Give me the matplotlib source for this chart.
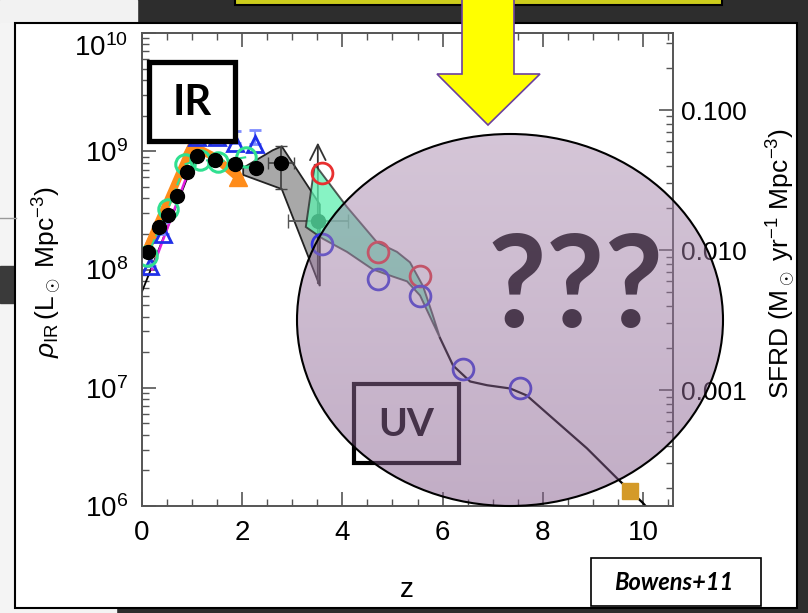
import numpy as np
import matplotlib.pyplot as plt
import matplotlib.transforms as mtransforms
from matplotlib.patches import Rectangle, Ellipse, Polygon
from matplotlib.ticker import FixedLocator, FixedFormatter, MultipleLocator, LogLocator, NullFormatter

plt.rcParams['font.family'] = ['Liberation Sans', 'DejaVu Sans']
plt.rcParams['mathtext.fontset'] = 'custom'
plt.rcParams['mathtext.rm'] = 'Liberation Sans'
plt.rcParams['mathtext.it'] = 'Liberation Sans:italic'
plt.rcParams['mathtext.bf'] = 'Liberation Sans:bold'

W, H = 808, 613

# ---- IR side (z < 4) ----
ir_dot_z = [0.12, 0.34, 0.52, 0.70, 0.90, 1.10, 1.46, 1.86, 2.28, 2.77, 3.51]
ir_dot_rho = [1.40e8, 2.28e8, 2.88e8, 4.16e8, 6.62e8, 9.04e8, 8.36e8, 7.73e8, 7.16e8, 7.89e8, 2.56e8]

green_circ_z = [0.10, 0.52, 0.86, 1.16, 1.52, 2.08]
green_circ_rho = [1.29e8, 3.24e8, 7.76e8, 8.51e8, 8.13e8, 8.91e8]

blue_tri_z = [0.16, 0.42, 1.10, 1.50, 1.86, 2.26]
blue_tri_rho = [1.07e8, 2.00e8, 1.32e9, 1.32e9, 1.17e9, 1.15e9]
blue_tri_up = [0.3e8, 0.5e8, 0.35e9, 0.35e9, 0.3e9, 0.35e9]

orange_z = [0.12, 1.00, 1.45, 1.92]
orange_rho = [1.55e8, 1.12e9, 8.9e8, 6.0e8]
orange_tri_z = [0.12, 1.00, 1.92]
orange_tri_rho = [1.55e8, 1.12e9, 6.0e8]

ir_line_z = [0.0, 1.10]
ir_line_rho = [6.5e7, 9.6e8]
magenta_z = [0.20, 0.92]
magenta_rho = [1.0e8, 6.6e8]

gray_z = [2.02, 2.61, 2.79, 3.55, 3.55, 2.79, 2.02]
gray_rho = [7.24e8, 1.02e9, 1.10e9, 3.55e8, 7.24e7, 4.79e8, 6.31e8]

# ---- UV side ----
band_z = [3.45, 4.09, 4.69, 5.09, 5.35, 5.61, 5.80, 5.95,
          5.75, 5.55, 5.29, 5.01, 4.61, 4.09, 3.61, 3.27]
band_rho = [7.76e8, 3.39e8, 1.70e8, 1.41e8, 1.15e8, 7.24e7, 4.17e7, 2.63e7,
            3.98e7, 6.03e7, 7.94e7, 8.71e7, 1.00e8, 1.41e8, 1.82e8, 2.29e8]

uv_line_z = [5.95, 6.21, 6.55, 6.89, 7.35, 7.68, 8.20, 8.88, 9.48, 10.0, 10.1]
uv_line_rho = [2.63e7, 1.54e7, 1.13e7, 1.05e7, 9.86e6, 8.61e6, 5.51e6, 3.08e6, 1.72e6, 1.06e6, 9.5e5]

red_z = [3.59, 4.71, 5.55]
red_rho = [6.61e8, 1.40e8, 8.81e7]
blue_z = [3.59, 4.71, 5.55, 6.41, 7.54]
blue_rho = [1.64e8, 8.32e7, 5.98e7, 1.45e7, 9.86e6]

square_z = [9.74]
square_rho = [1.34e6]

rho_ticks = [1e6, 1e7, 1e8, 1e9, 1e10]
sfrd_ticks = [1e-3, 1e-2, 1e-1]
sfrd_labels = ['0.001', '0.010', '0.100']

fig = plt.figure(figsize=(W / 100, H / 100), dpi=100, facecolor='#2d2d2d')

# slide background pieces
bg = fig.add_axes([0, 0, 1, 1])
bg.set_zorder(-5)
bg.set_xlim(0, W)
bg.set_ylim(H, 0)
bg.axis('off')
bg.add_patch(Rectangle((0, 0), 137, 23, color='#f2f2f2'))
bg.add_patch(Rectangle((0, 23), 16, H - 23, color='#f4f4f4'))
bg.add_patch(Rectangle((0, 600), 116, 13, color='#f4f4f4'))
bg.add_patch(Rectangle((0, 266), 16, 37, color='#3a3a3a'))
bg.plot([0, 16], [218, 218], color='#999999', lw=1)
bg.add_patch(Rectangle((235, -10), 487, 15, facecolor='#cccc1c', edgecolor='black', lw=1.5))
bg.add_patch(Rectangle((15, 23), 782, 585, facecolor='white', edgecolor='black', lw=1.5))

# main chart
ax = fig.add_axes([142 / W, 1 - 506 / H, 531 / W, 473 / H])
ax.set_zorder(0)
ax.set_yscale('log')
ax.set_xlim(0, 10.6)
ax.set_ylim(1e6, 1e10)

ax.fill(gray_z, gray_rho, facecolor='#a8a8a8', edgecolor='#222222', lw=1.3, zorder=2)
ax.plot(ir_line_z, ir_line_rho, color='black', lw=1.3, zorder=3)
ax.plot(magenta_z, magenta_rho, color='#e020e0', lw=1.8, zorder=3)
ax.plot(orange_z, orange_rho, color='#ff8c1a', lw=6, zorder=3)
ax.plot(orange_tri_z, orange_tri_rho, '^', color='#ff8c1a', ms=13, zorder=3)
ax.errorbar(blue_tri_z, blue_tri_rho, yerr=[[0] * len(blue_tri_z), blue_tri_up], fmt='^',
            mfc='none', mec='#2030e8', ecolor='#7f8cff', ms=11, mew=2, capsize=4, zorder=4)
ax.plot(green_circ_z, green_circ_rho, color='#30e090', lw=1.5, ls='--', zorder=4)
ax.plot(green_circ_z, green_circ_rho, 'o', mfc='none', mec='#30e090', ms=14, mew=2.2, zorder=5)
ax.plot(ir_dot_z, ir_dot_rho, 'o', color='black', ms=10, zorder=6)

ax.errorbar([ir_dot_z[9]], [ir_dot_rho[9]], yerr=[[3.1e8], [3.1e8]], xerr=0.26, fmt='none',
            ecolor='#444444', lw=1.3, capsize=4, zorder=5)
ax.errorbar([ir_dot_z[10]], [ir_dot_rho[10]], xerr=0.6, fmt='none',
            ecolor='#555555', lw=1.3, capsize=5, zorder=5)
ax.annotate('', xy=(3.51, 1.25e9), xytext=(3.51, 7.24e7),
            arrowprops=dict(arrowstyle='->', color='#333333', lw=1.3, mutation_scale=28), zorder=5)

ax.fill(band_z, band_rho, facecolor='#5ff0b0', alpha=0.75, edgecolor='#222222', lw=1.4, zorder=7)
ax.plot(uv_line_z, uv_line_rho, color='black', lw=1.6, zorder=7)
ax.plot(red_z, red_rho, 'o', mfc='none', mec='#e83030', ms=15, mew=2, zorder=8)
ax.plot(blue_z, blue_rho, 'o', mfc='none', mec='#3535e0', ms=15, mew=2, zorder=8)
ax.plot(square_z, square_rho, 's', color='#d49a28', ms=12, zorder=8)

for s in ax.spines.values():
    s.set_color('#555555')
    s.set_linewidth(1.2)
ax.xaxis.set_major_locator(MultipleLocator(2))
ax.xaxis.set_minor_locator(MultipleLocator(0.5))
ax.yaxis.set_major_locator(FixedLocator(rho_ticks))
ax.yaxis.set_minor_locator(LogLocator(base=10, subs=np.arange(2, 10), numticks=20))
ax.yaxis.set_minor_formatter(NullFormatter())
ax.tick_params(which='both', direction='in', top=True, right=False, color='#555555')
ax.tick_params(which='major', length=10, width=1.2, labelsize=20, pad=10)
ax.tick_params(which='minor', length=5, width=1)

# the top label sits a little below its tick in the original
top_tick = ax.yaxis.get_major_ticks(len(rho_ticks))[-1]
top_tick.label1.set_transform(top_tick.label1.get_transform() +
                              mtransforms.ScaledTranslation(0, -12 / 100, fig.dpi_scale_trans))

ax2 = ax.twinx()
ax2.set_zorder(1)
ax2.patch.set_visible(False)
ax2.set_yscale('log')
ax2.set_ylim(1.49e-4, 0.355)
ax2.yaxis.set_major_locator(FixedLocator(sfrd_ticks))
ax2.yaxis.set_major_formatter(FixedFormatter(sfrd_labels))
ax2.yaxis.set_minor_locator(LogLocator(base=10, subs=np.arange(2, 10), numticks=20))
ax2.yaxis.set_minor_formatter(NullFormatter())
ax2.tick_params(which='both', direction='in', color='#555555')
ax2.tick_params(which='major', length=10, width=1.2, labelsize=19, pad=6)
ax2.tick_params(which='minor', length=5, width=1)
for s in ax2.spines.values():
    s.set_color('#555555')
    s.set_linewidth(1.2)

fig.text(407 / W, 1 - 590 / H, 'z', fontsize=20, ha='center', va='center')
fig.text(47 / W, 1 - 272 / H, r'$\rho_{\rm IR}\,$(L$_\odot$ Mpc$^{-3}$)', fontsize=19,
         rotation=90, ha='center', va='center')
fig.text(781 / W, 1 - 263 / H, r'SFRD (M$_\odot$ yr$^{-1}$ Mpc$^{-3}$)', fontsize=19,
         rotation=90, ha='center', va='center')

# slide overlays
ov = fig.add_axes([0, 0, 1, 1])
ov.set_zorder(5)
ov.patch.set_visible(False)
ov.axis('off')

ov.add_patch(Polygon([(462, -5), (514, -5), (514, 74), (540, 74), (488, 125), (437, 74), (462, 74)],
                     closed=True, facecolor='#ffff00', edgecolor='#6b3fa0', lw=1.2, zorder=2))
ov.add_patch(Rectangle((149, 62), 86, 79, facecolor='white', edgecolor='black', lw=3.8, zorder=2))
ov.text(192, 103, 'IR', fontsize=30, fontweight='bold', family='Lato', ha='center', va='center', zorder=3)

ov.add_patch(Rectangle((354, 384), 105, 79, facecolor='white', edgecolor='black', lw=3, zorder=1))
ov.text(406, 425, 'UV', fontsize=28, fontweight='bold', family='Lato', ha='center', va='center', zorder=1.5)
ov.text(576, 290, '???', fontsize=92, fontweight='bold', family='Lato', ha='center', va='center', zorder=1.5)

n = 256
t = np.linspace(0, 1, n)[:, None, None]
top = np.array([0.67, 0.55, 0.69])
bot = np.array([0.52, 0.36, 0.55])
rgba = np.ones((n, 1, 4))
rgba[..., :3] = top + (bot - top) * t
rgba[..., 3] = 0.5
im = ov.imshow(rgba, extent=(297, 723, 506, 134), aspect='auto', interpolation='bilinear', zorder=3)
ell = Ellipse((510, 320), 426, 372, facecolor='none', edgecolor='black', lw=1.5, zorder=4)
ov.add_patch(ell)
im.set_clip_path(ell)

ov.add_patch(Rectangle((591, 558), 170, 48, facecolor='white', edgecolor='black', lw=1.2, zorder=2))
ov.text(674, 582, 'Bowens+11', fontsize=17, fontweight='bold', style='italic', family='Lato',
        ha='center', va='center', zorder=3)

ov.set_xlim(0, W)
ov.set_ylim(H, 0)

fig.savefig('out.png', dpi=100)
